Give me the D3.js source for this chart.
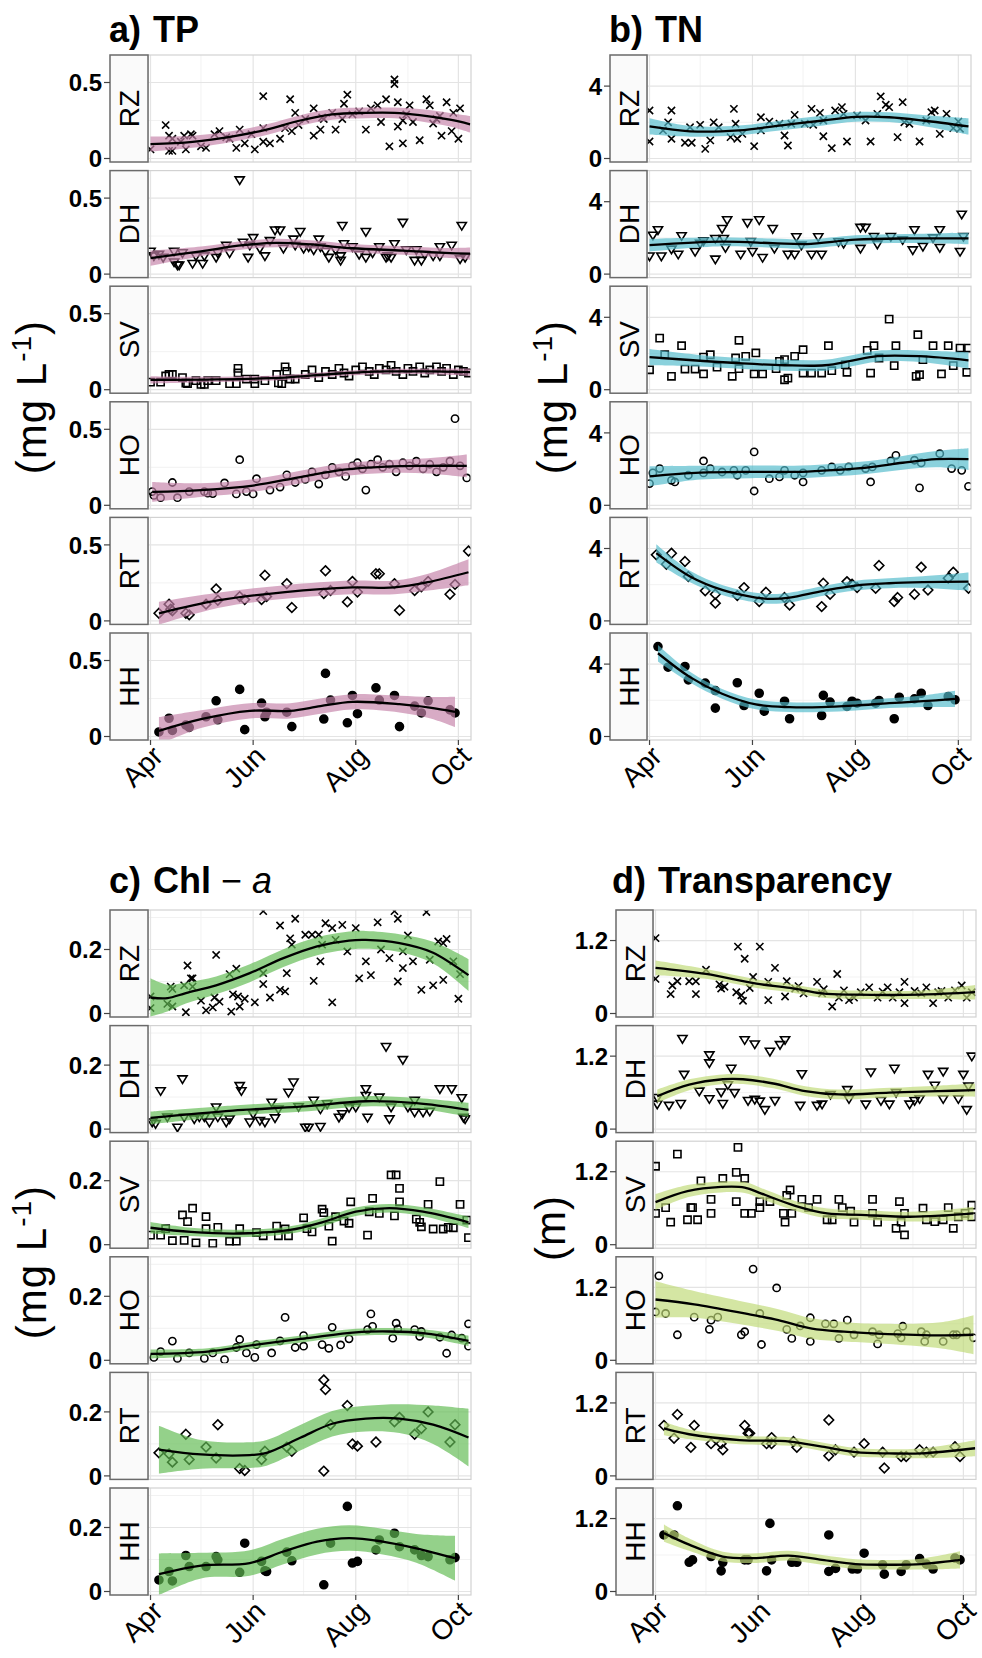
<!DOCTYPE html>
<html><head><meta charset="utf-8">
<script src="https://cdn.jsdelivr.net/npm/d3@7"></script>
<style>
body{margin:0;background:#fff}
svg{display:block}
text{font-family:"Liberation Sans",Arial,Helvetica,sans-serif;fill:#000}
</style>
</head><body>
<svg id="chart" width="982" height="1658"></svg>
<script>
// ---------------- categories / ticks ----------------
const lakes = ["RZ","DH","SV","HO","RT","HH"];
const monthDays = [0,61,122,183];          // Apr 1, Jun 1, Aug 1, Oct 1 (days since Apr 1)
const monthLabels = ["Apr","Jun","Aug","Oct"];
const minorDays = [30,91,153];             // May 1, Jul 1, Sep 1
const dayDomain = [-1.5,190.5];
const tpTicks = [0,0.5], tnTicks = [0,4], chlTicks = [0,0.2], secTicks = [0,1.2];

// ---------------- a) TP  [day, value] ----------------
const tpRZ = [[0,.06],[9,.22],[11,.15],[13,.13],[11,.05],[13,.05],[18,.11],[20,.15],[21,.06],[24,.16],[25,.15],[30,.08],[33,.07],[38,.16],[41,.18],[45,.14],[47,.13],[51,.07],[53,.19],[56,.10],[60,.16],[62,.06],[67,.41],[67,.20],[67,.11],[71,.10],[77,.13],[80,.20],[83,.39],[84,.18],[86,.30],[88,.22],[92,.26],[97,.33],[97,.15],[101,.19],[102,.27],[103,.26],[108,.30],[110,.19],[114,.26],[115,.36],[117,.42],[120,.29],[124,.31],[128,.19],[131,.33],[135,.35],[137,.24],[140,.39],[142,.08],[145,.52],[145,.49],[147,.37],[147,.21],[150,.10],[150,.25],[152,.29],[154,.35],[156,.24],[160,.12],[164,.39],[166,.35],[168,.23],[170,.26],[172,.28],[173,.15],[176,.37],[179,.18],[180,.30],[183,.13],[184,.33]];
const tpRZfit = [[0,.095,.05],[25,.11,.04],[49,.146,.035],[69,.19,.035],[89,.25,.035],[108,.29,.035],[128,.30,.035],[145,.30,.035],[160,.285,.04],[178,.255,.045],[190,.225,.055]];
const tpDH = [[0,.15],[2,.12],[5,.13],[7.5,.11],[14,.15],[14,.08],[16,.06],[17,.06],[19,.14],[25,.07],[27,.12],[31,.07],[32,.12],[39,.11],[40,.14],[45,.19],[47,.14],[53,.62],[55,.21],[58,.11],[59,.19],[61,.24],[65,.17],[68,.12],[71,.22],[74,.29],[77,.29],[79,.17],[85,.23],[86,.19],[89,.28],[91,.17],[94,.18],[97,.16],[100,.23],[101,.18],[104,.15],[106,.11],[110,.16],[113,.12],[113,.09],[114,.32],[115,.20],[120,.18],[124,.13],[128,.28],[128,.11],[132,.14],[136,.18],[140,.11],[141,.12],[143,.11],[145,.20],[150,.34],[152,.16],[157,.09],[158,.16],[161,.09],[163,.13],[168,.12],[172,.12],[172,.18],[179,.19],[184,.10],[185,.32],[187,.11]];
const tpDHfit = [[0,.105,.05],[30,.15,.032],[55,.19,.028],[75,.205,.028],[95,.195,.028],[120,.17,.028],[150,.155,.028],[175,.14,.032],[190,.135,.04]];
const tpSV = [[0,.05],[6,.05],[9,.09],[11,.10],[13,.10],[19,.08],[21,.044],[22,.04],[27,.06],[30,.035],[32,.035],[34,.06],[39,.06],[47,.04],[51,.04],[52,.14],[52,.11],[57,.07],[62,.07],[62,.04],[68,.06],[75,.10],[76,.045],[78,.04],[80,.15],[81,.12],[83,.07],[86,.07],[92,.10],[96,.13],[100,.08],[104,.12],[108,.10],[112,.14],[115,.11],[118,.09],[122,.13],[126,.15],[130,.12],[133,.10],[136,.14],[140,.13],[143,.16],[146,.12],[150,.10],[153,.14],[156,.12],[160,.15],[163,.11],[166,.13],[170,.15],[173,.12],[176,.14],[180,.10],[183,.13],[186,.12],[189,.11]];
const tpSVfit = [[0,.065,.024],[40,.068,.017],[80,.08,.017],[110,.105,.017],[140,.12,.017],[165,.12,.018],[190,.115,.024]];
const tpHO = [[1,.09],[2,.065],[6,.05],[13,.15],[16,.05],[23,.09],[32,.09],[34,.08],[37,.077],[44,.147],[51,.075],[53,.30],[57,.09],[61,.075],[63,.175],[71,.10],[77,.12],[81,.20],[86,.15],[92,.17],[96,.22],[100,.14],[104,.20],[108,.25],[112,.22],[116,.19],[120,.26],[123,.28],[126,.24],[128,.10],[131,.27],[135,.30],[138,.25],[142,.27],[146,.22],[150,.28],[154,.26],[158,.29],[162,.24],[166,.27],[170,.22],[174,.25],[178,.29],[181,.57],[184,.26],[188,.18]];
const tpHOfit = [[1,.088,.065],[30,.10,.045],[61,.13,.042],[89,.186,.042],[115,.235,.042],[140,.255,.042],[165,.26,.05],[188,.26,.075]];
const tpRT = [[5,.05],[11,.11],[12,.077],[13,.066],[21,.05],[23,.04],[33,.11],[39,.21],[40,.136],[53,.16],[56,.14],[66,.14],[68,.30],[69,.16],[81,.245],[84,.088],[103,.18],[104,.33],[107,.20],[117,.125],[120,.26],[123,.19],[134,.31],[136,.31],[145,.245],[148,.07],[157,.20],[161,.225],[165,.26],[178,.175],[181,.24],[189,.46]];
const tpRTfit = [[5,.05,.075],[40,.135,.05],[80,.19,.045],[120,.22,.045],[145,.22,.045],[165,.255,.055],[189,.32,.085]];
const tpHH = [[5,.03],[11,.12],[13,.04],[21,.075],[23,.06],[33,.13],[39,.235],[40,.11],[53,.31],[56,.045],[66,.22],[68,.13],[69,.16],[81,.16],[84,.065],[103,.115],[104,.415],[107,.24],[117,.09],[120,.27],[123,.15],[134,.32],[136,.24],[145,.27],[148,.065],[157,.20],[161,.155],[165,.235],[178,.175],[181,.155]];
const tpHHfit = [[5,.037,.09],[30,.114,.058],[59,.169,.05],[83,.169,.05],[101,.20,.05],[120,.228,.05],[148,.213,.055],[166,.19,.07],[181,.162,.1]];

// ---------------- b) TN ----------------
const tnRZ = [[0,2.65],[0,.94],[8,1.55],[11,2.0],[13,2.65],[13,1.09],[21,.87],[25,.87],[24,1.73],[30,1.86],[33,.53],[36,1.0],[38,2.0],[41,1.73],[48,1.18],[50,2.74],[51,1.92],[52,1.09],[55,1.36],[62,.68],[66,2.28],[66,1.55],[71,2.04],[77,1.92],[80,1.27],[82,.72],[84,1.92],[86,2.41],[92,1.92],[96,2.74],[97,1.86],[101,2.52],[103,1.23],[103,2.1],[108,.57],[110,2.65],[114,2.84],[115,2.47],[117,.94],[123,2.38],[128,2.1],[131,.94],[135,2.47],[137,3.43],[140,2.97],[142,2.84],[147,1.18],[150,3.11],[151,2.0],[154,1.92],[160,.94],[164,2.1],[167,2.56],[169,2.65],[172,1.36],[176,2.47],[180,1.68],[183,2.04],[184,1.64]];
const tnRZfit = [[0,1.77,.45],[24,1.5,.3],[53,1.55,.27],[77,1.82,.27],[103,2.1,.27],[122,2.3,.27],[142,2.28,.27],[162,2.1,.3],[189,1.77,.45]];
const tnDH = [[0,1.0],[2,2.15],[5,2.45],[7,1.0],[13,1.38],[17,1.1],[19,2.12],[27,1.25],[30,1.7],[32,1.84],[39,.83],[39,1.97],[43,2.52],[44,1.97],[45,1.47],[46,3.0],[54,1.1],[58,2.85],[60,1.8],[61,1.25],[65,3.0],[67,.92],[73,2.52],[74,1.42],[82,1.1],[86,1.1],[87,2.06],[90,1.6],[96,1.1],[100,2.06],[102,1.1],[112,1.79],[115,1.7],[125,2.58],[128,2.58],[125,1.42],[133,2.08],[135,1.66],[143,2.08],[150,1.9],[156,1.34],[157,2.45],[162,1.53],[168,2.0],[172,2.45],[172,1.47],[184,1.25],[185,3.31],[186,2.08]];
const tnDHfit = [[0,1.6,.35],[43,1.79,.25],[73,1.71,.25],[93,1.66,.25],[122,1.9,.25],[152,1.97,.25],[189,1.97,.32]];
const tnSV = [[0,1.1],[6,2.85],[9,1.93],[13,.74],[19,2.43],[21,1.14],[27,1.14],[32,.87],[32,1.8],[36,1.93],[40,1.25],[49,.74],[51,1.75],[53,2.73],[53,1.16],[57,1.84],[62,.87],[63,2.03],[67,.87],[75,1.16],[77,1.57],[80,1.66],[80,.55],[82,.64],[86,1.84],[91,2.21],[91,.92],[96,.92],[102,.92],[106,2.43],[108,1.05],[116,1.38],[117,.96],[129,2.17],[131,.92],[133,2.43],[136,1.75],[142,3.9],[145,1.33],[146,2.43],[158,.74],[160,.83],[159,3.04],[162,1.66],[168,2.43],[173,.87],[177,2.43],[180,1.33],[184,2.3],[188,.96],[189,2.3]];
const tnSVfit = [[0,1.8,.45],[30,1.6,.32],[55,1.45,.3],[80,1.35,.3],[104,1.35,.3],[120,1.6,.3],[135,1.85,.3],[160,1.85,.32],[189,1.62,.45]];
const tnHO = [[0,1.2],[2,1.79],[6,2.03],[13,1.38],[15,1.29],[23,1.66],[32,2.45],[32,1.79],[36,2.03],[43,1.84],[50,1.93],[52,1.66],[57,1.93],[62,2.95],[62,.79],[71,1.47],[77,1.57],[80,1.93],[86,1.66],[91,1.29],[91,1.79],[102,1.93],[108,2.12],[113,1.93],[118,2.12],[128,2.03],[131,1.29],[132,2.12],[143,2.45],[146,2.76],[157,2.49],[160,.96],[161,2.34],[172,2.85],[179,2.03],[185,1.93],[189,1.05]];
const tnHOfit = [[0,1.6,.55],[30,1.8,.38],[60,1.85,.35],[90,1.85,.35],[110,1.95,.35],[130,2.1,.35],[150,2.35,.38],[170,2.55,.45],[189,2.55,.6]];
const tnRT = [[4,3.65],[10,3.13],[13,3.74],[21,3.28],[23,2.45],[33,1.66],[39,1.47],[39,.98],[52,1.4],[56,1.84],[65,1.07],[69,1.58],[80,1.29],[83,.88],[102,.79],[103,2.08],[107,1.47],[117,2.17],[120,2.03],[123,1.84],[134,1.8],[136,3.06],[145,1.07],[147,1.29],[157,1.47],[161,2.97],[165,1.71],[177,2.36],[180,2.69],[189,1.8]];
const tnRTfit = [[4,3.74,.5],[24,2.45,.32],[43,1.71,.28],[63,1.29,.27],[73,1.22,.27],[83,1.29,.27],[103,1.66,.27],[122,1.95,.27],[142,2.08,.27],[162,2.14,.32],[189,2.17,.5]];
const tnHH = [[5,4.97],[11,3.83],[21,3.87],[23,3.13],[33,2.95],[39,2.54],[39,1.57],[52,2.97],[56,1.71],[65,2.39],[68,1.4],[80,1.95],[83,.98],[103,2.27],[102,1.16],[107,1.9],[117,1.66],[120,1.95],[123,1.84],[134,1.84],[136,1.99],[145,.98],[148,2.17],[157,2.08],[161,2.39],[165,1.71],[177,2.21],[181,2.03]];
const tnHHfit = [[5,4.6,.45],[24,3.28,.3],[43,2.36,.27],[63,1.77,.27],[83,1.62,.27],[102,1.62,.27],[122,1.71,.27],[142,1.84,.27],[162,1.95,.32],[181,2.08,.45]];

// ---------------- c) Chl-a ----------------
const chlRZ = [[0,.017],[0,.053],[10,.03],[12,.084],[13,.077],[13,.022],[20,.088],[21,.004],[22,.15],[24,.11],[25,.11],[25,.084],[30,.04],[33,.01],[37,.019],[38,.05],[39,.183],[41,.037],[47,.123],[48,.006],[49,.06],[51,.14],[52,.053],[53,.022],[56,.046],[62,.035],[67,.32],[67,.126],[67,.092],[71,.05],[77,.275],[77,.074],[80,.069],[81,.126],[83,.235],[84,.215],[86,.296],[92,.246],[96,.246],[97,.102],[100,.246],[101,.163],[102,.215],[104,.282],[108,.035],[108,.267],[110,.23],[114,.277],[117,.194],[122,.267],[124,.11],[128,.163],[131,.12],[135,.285],[137,.2],[142,.173],[145,.32],[147,.296],[147,.1],[150,.194],[150,.142],[153,.244],[156,.163],[161,.074],[164,.317],[166,.168],[168,.088],[171,.225],[174,.22],[174,.105],[176,.233],[180,.163],[183,.046],[184,.123]];
const chlRZfit = [[0,.05,.06],[10,.048,.042],[21,.064,.033],[39,.088,.028],[59,.126,.028],[79,.173,.028],[99,.21,.028],[118,.228,.028],[128,.23,.028],[148,.22,.028],[168,.19,.034],[189,.12,.05]];
const chlDH = [[1,.022],[3,.017],[6,.12],[10,.038],[16,.006],[19,.157],[20,.038],[26,.032],[29,.038],[32,.038],[35,.022],[39,.069],[40,.038],[45,.022],[47,.032],[53,.136],[54,.12],[59,.022],[61,.048],[65,.027],[68,.022],[72,.084],[74,.035],[76,.063],[82,.115],[85,.147],[88,.07],[92,.006],[94,.006],[97,.09],[101,.008],[101,.063],[105,.079],[112,.037],[114,.048],[118,.067],[122,.069],[128,.126],[128,.105],[129,.037],[136,.1],[140,.258],[142,.032],[143,.069],[150,.217],[153,.069],[157,.09],[157,.053],[162,.053],[166,.056],[172,.126],[179,.126],[185,.098],[186,.037],[187,.032]];
const chlDHfit = [[0,.035,.02],[49,.058,.016],[89,.07,.016],[128,.087,.016],[158,.081,.016],[189,.06,.022]];
const chlSV = [[0,.03],[6,.03],[9,.05],[13,.0125],[19,.093],[20,.0135],[22,.072],[25,.114],[27,.006],[33,.0875],[33,.05],[37,.004],[40,.054],[47,.011],[51,.011],[53,.05],[63,.038],[67,.028],[75,.058],[76,.028],[80,.049],[82,.028],[91,.084],[93,.05],[96,.04],[102,.111],[103,.1],[106,.058],[108,.011],[110,.0875],[115,.074],[118,.067],[119,.134],[129,.03],[130,.103],[132,.145],[136,.098],[143,.218],[146,.218],[145,.09],[148,.176],[148,.134],[158,.08],[160,.07],[161,.056],[165,.126],[168,.049],[172,.197],[174,.049],[177,.054],[180,.053],[184,.126],[188,.077],[189,.022]];
const chlSVfit = [[0,.053,.018],[24,.04,.013],[53,.035,.012],[83,.046,.012],[102,.07,.013],[122,.103,.013],[142,.114,.013],[162,.103,.014],[189,.07,.018]];
const chlHO = [[2,.009],[6,.027],[13,.06],[16,.006],[23,.023],[32,.006],[37,.023],[44,.002],[51,.04],[53,.065],[57,.023],[62,.009],[63,.049],[72,.023],[77,.061],[80,.134],[86,.04],[91,.077],[91,.044],[102,.049],[106,.0375],[108,.103],[113,.048],[118,.067],[129,.096],[131,.145],[132,.106],[144,.069],[146,.116],[147,.098],[157,.096],[160,.075],[161,.09],[172,.072],[176,.022],[179,.079],[185,.069],[189,.114],[189,.044]];
const chlHOfit = [[0,.02,.014],[34,.027,.011],[63,.049,.011],[93,.069,.011],[122,.0875,.011],[142,.09,.011],[162,.085,.012],[189,.061,.016]];
const chlRT = [[5,.072],[11,.069],[13,.043],[21,.13],[23,.051],[33,.09],[39,.056],[40,.16],[53,.023],[56,.017],[66,.051],[68,.077],[81,.09],[84,.077],[103,.015],[103,.30],[104,.27],[107,.16],[117,.22],[120,.1],[123,.093],[134,.106],[145,.169],[148,.183],[157,.13],[161,.148],[165,.2],[178,.106],[181,.16]];
const chlRTfit = [[5,.082,.075],[30,.067,.045],[59,.065,.04],[69,.072,.04],[89,.119,.04],[108,.163,.04],[128,.179,.04],[148,.179,.045],[168,.16,.06],[189,.12,.09]];
const chlHH = [[5,.036],[11,.0625],[13,.033],[21,.1125],[23,.078],[33,.078],[39,.109],[40,.099],[53,.06],[56,.151],[66,.094],[68,.065],[69,.0625],[81,.123],[84,.096],[103,.021],[107,.151],[117,.266],[120,.089],[123,.094],[134,.13],[136,.161],[145,.182],[148,.14],[157,.13],[161,.1125],[165,.109],[178,.099],[181,.106]];
const chlHHfit = [[5,.054,.065],[30,.081,.04],[59,.089,.04],[79,.125,.04],[99,.156,.04],[118,.167,.04],[138,.156,.04],[158,.135,.045],[181,.104,.07]];

// ---------------- d) Transparency (m) ----------------
const secRZ = [[0,1.24],[0,.57],[9,.32],[10,.46],[13,.53],[20,.53],[24,.53],[24,.32],[30,.72],[38,.48],[39,.41],[41,.44],[48,.35],[49,1.1],[51,.30],[52,.21],[53,.9],[56,.42],[58,.6],[62,1.1],[67,.52],[67,.22],[71,.75],[77,.28],[78,.53],[83,.41],[85,.45],[88,.33],[96,.52],[99,.33],[100,.40],[105,.115],[108,.65],[109,.26],[112,.38],[115,.22],[118,.26],[122,.35],[127,.43],[132,.26],[135,.36],[138,.43],[141,.26],[145,.35],[148,.52],[148,.17],[154,.37],[158,.33],[161,.43],[165,.17],[168,.35],[170,.37],[174,.26],[178,.38],[182,.46],[185,.26],[188,.35]];
const secRZfit = [[0,.75,.12],[30,.65,.08],[60,.49,.07],[80,.42,.07],[99,.33,.07],[118,.31,.07],[158,.31,.07],[190,.35,.12]];
const secDH = [[1,.41],[1,.52],[8,.39],[15,.42],[16,1.49],[17,.9],[26,.625],[32,1.22],[32,1.09],[32,.5],[39,.61],[40,.42],[43,.73],[45,1.0],[47,.6],[53,1.47],[55,.47],[59,1.4],[59,.49],[62,.46],[65,.32],[68,1.28],[71,.47],[74,1.39],[77,1.47],[86,.39],[87,.91],[96,.39],[99,.41],[104,.57],[114,.65],[115,.5],[125,.41],[128,.94],[134,.47],[139,.41],[142,1.0],[143,.6],[151,.41],[154,.47],[157,.5],[162,.9],[166,.72],[171,.95],[171,.5],[180,.5],[183,.9],[185,.32],[186,.71],[188,1.2]];
const secDHfit = [[1,.54,.11],[20,.73,.09],[40,.82,.08],[52,.82,.08],[70,.75,.08],[89,.625,.08],[109,.57,.08],[139,.6,.08],[168,.625,.09],[190,.64,.11]];
const secSV = [[0,1.29],[0,.515],[6,.61],[9,.37],[13,1.49],[19,.41],[21,.61],[22,.61],[25,.41],[27,1.05],[33,.515],[33,.745],[40,1.09],[48,1.19],[48,.71],[49,1.6],[53,1.09],[53,.515],[57,.515],[62,.71],[62,.61],[68,.71],[76,.515],[77,.37],[78,.81],[80,.9],[81,.515],[87,.745],[91,.61],[96,.745],[102,.41],[105,.41],[109,.745],[111,.61],[116,.55],[118,.37],[129,.745],[129,.515],[132,.37],[143,.27],[145,.71],[146,.37],[148,.16],[148,.515],[159,.6],[161,.41],[166,.38],[171,.41],[174,.61],[177,.27],[180,.46],[184,.515],[188,.46],[188,.65]];
const secSVfit = [[0,.7,.13],[19,.88,.1],[39,.95,.09],[53,.94,.09],[63,.84,.09],[83,.64,.08],[102,.515,.08],[122,.49,.08],[151,.46,.08],[171,.48,.09],[189,.515,.11]];
const secHO = [[0,.795],[2,1.39],[6,.77],[13,.42],[23,.71],[32,.51],[33,.66],[37,.71],[51,.42],[53,.47],[58,1.5],[62,.77],[63,.26],[72,1.19],[78,.51],[81,.36],[86,.565],[92,.7],[92,.31],[101,.6],[106,.6],[109,.36],[114,.66],[118,.42],[129,.47],[132,.27],[133,.42],[144,.44],[146,.37],[147,.56],[158,.47],[160,.31],[161,.42],[171,.31],[177,.42],[179,.42],[185,.47],[189,.37]];
const secHOfit = [[0,1.0,.3],[23,.92,.22],[53,.77,.19],[73,.66,.18],[93,.52,.17],[112,.47,.16],[132,.44,.16],[171,.41,.22],[189,.42,.32]];
const secRT = [[5,.83],[11,.62],[13,1.01],[21,.47],[23,.83],[33,.53],[39,.53],[40,.43],[53,.83],[55,.70],[56,.70],[66,.53],[69,.53],[69,.63],[82,.565],[84,.47],[103,.92],[103,.33],[107,.43],[118,.39],[124,.53],[135,.39],[136,.13],[146,.32],[149,.32],[157,.43],[161,.39],[165,.39],[178,.48],[181,.32]];
const secRTfit = [[5,.78,.11],[20,.685,.08],[50,.59,.07],[80,.565,.07],[99,.48,.07],[119,.39,.07],[139,.37,.07],[158,.37,.08],[190,.455,.13]];
const secHH = [[5,.93],[11,.93],[13,1.41],[20,.48],[22,.52],[33,.575],[39,.34],[40,.48],[53,.52],[55,.52],[66,.34],[68,1.12],[69,.52],[81,.48],[84,.48],[103,.93],[103,.33],[107,.38],[117,.37],[120,.37],[124,.63],[135,.44],[136,.285],[146,.33],[149,.44],[157,.54],[161,.45],[165,.37],[178,.55],[181,.52]];
const secHHfit = [[5,.96,.14],[20,.77,.1],[40,.575,.08],[60,.55,.08],[79,.59,.08],[99,.52,.08],[119,.45,.08],[139,.44,.08],[158,.45,.09],[181,.52,.14]];

// ---------------- layout / styling ----------------
const FH = 107, PITCH = 115.6;
const panels = [
  {letter:"a)", name:[{t:"TP"}], titleX:109, titleY:42, stripX:110, x0:148, x1:471, top:55,
   yDom:[-3.5/152, 103.5/152], ticks:tpTicks, minor:[0.25], fill:"#c583aa",
   series:[tpRZ,tpDH,tpSV,tpHO,tpRT,tpHH], fits:[tpRZfit,tpDHfit,tpSVfit,tpHOfit,tpRTfit,tpHHfit],
   ytitle:"mg", ytX:46, ytY:397},
  {letter:"b)", name:[{t:"TN"}], titleX:609, titleY:42, stripX:610, x0:647, x1:971, top:55,
   yDom:[-3.5/18.1, 103.5/18.1], ticks:tnTicks, minor:[2], fill:"#52bbcc",
   series:[tnRZ,tnDH,tnSV,tnHO,tnRT,tnHH], fits:[tnRZfit,tnDHfit,tnSVfit,tnHOfit,tnRTfit,tnHHfit],
   ytitle:"mg", ytX:567, ytY:397},
  {letter:"c)", name:[{t:"Chl"},{t:" \u2212 ",w:"normal"},{t:"a",w:"normal",i:true}], titleX:109, titleY:893, stripX:110, x0:148, x1:471, top:910,
   yDom:[-3.5/320, 103.5/320], ticks:chlTicks, minor:[0.1,0.3], fill:"#62bb52",
   series:[chlRZ,chlDH,chlSV,chlHO,chlRT,chlHH], fits:[chlRZfit,chlDHfit,chlSVfit,chlHOfit,chlRTfit,chlHHfit],
   ytitle:"mg", ytX:46, ytY:1262},
  {letter:"d)", name:[{t:"Transparency"}], titleX:612, titleY:893, stripX:616, x0:653, x1:976, top:910,
   yDom:[-3.5/60.8, 103.5/60.8], ticks:secTicks, minor:[0.6], fill:"#c0da78",
   series:[secRZ,secDH,secSV,secHO,secRT,secHH], fits:[secRZfit,secDHfit,secSVfit,secHOfit,secRTfit,secHHfit],
   ytitle:"m", ytX:565, ytY:1228}
];

const shapePaths = {
  RZ:"M-3.6,-3.6L3.6,3.6M-3.6,3.6L3.6,-3.6",
  DH:"M-4.6,-3L4.6,-3L0,4.6Z",
  SV:"M-3.6,-3.6H3.6V3.6H-3.6Z",
  HO:"M3.6,0A3.6,3.6 0 1,1 -3.6,0A3.6,3.6 0 1,1 3.6,0Z",
  RT:"M0,-4.8L4.8,0L0,4.8L-4.8,0Z",
  HH:"M4,0A4,4 0 1,1 -4,0A4,4 0 1,1 4,0Z"
};

const svg = d3.select("#chart");
const defs = svg.append("defs");
let clipId = 0;

panels.forEach(p => {
  const x = d3.scaleLinear().domain(dayDomain).range([p.x0, p.x1]);

  // title
  const tt = svg.append("text").attr("x", p.titleX).attr("y", p.titleY)
    .attr("font-size", 36).attr("font-weight", "bold");
  tt.append("tspan").text(p.letter);
  p.name.forEach((s, k) => {
    const ts = tt.append("tspan").text(s.t).attr("font-weight", s.w || "bold");
    if (k === 0) ts.attr("dx", 12);
    if (s.i) ts.attr("font-style", "italic");
  });

  lakes.forEach((lake, i) => {
    const top = p.top + i * PITCH, bot = top + FH;
    const y = d3.scaleLinear().domain(p.yDom).range([bot, top]);
    const g = svg.append("g");

    // panel background & grid
    g.append("rect").attr("x", p.x0).attr("y", top).attr("width", p.x1 - p.x0).attr("height", FH)
      .attr("fill", "#fff");
    const grid = g.append("g");
    minorDays.forEach(d => grid.append("line").attr("x1", x(d)).attr("x2", x(d)).attr("y1", top).attr("y2", bot)
      .attr("stroke", "#f1f1f1").attr("stroke-width", 0.9));
    p.minor.forEach(v => { if (v < p.yDom[1]) grid.append("line").attr("x1", p.x0).attr("x2", p.x1)
      .attr("y1", y(v)).attr("y2", y(v)).attr("stroke", "#f1f1f1").attr("stroke-width", 0.9); });
    monthDays.forEach(d => grid.append("line").attr("x1", x(d)).attr("x2", x(d)).attr("y1", top).attr("y2", bot)
      .attr("stroke", "#e4e4e4").attr("stroke-width", 1.2));
    p.ticks.forEach(v => grid.append("line").attr("x1", p.x0).attr("x2", p.x1)
      .attr("y1", y(v)).attr("y2", y(v)).attr("stroke", "#e4e4e4").attr("stroke-width", 1.2));

    const cid = "clip" + (clipId++);
    defs.append("clipPath").attr("id", cid).append("rect")
      .attr("x", p.x0).attr("y", top).attr("width", p.x1 - p.x0).attr("height", FH);
    const inner = g.append("g").attr("clip-path", `url(#${cid})`);

    // points
    inner.append("g").selectAll("path").data(p.series[i]).join("path")
      .attr("transform", d => `translate(${x(d[0])},${y(d[1])})`)
      .attr("d", shapePaths[lake])
      .attr("fill", lake === "HH" ? "#000" : "none")
      .attr("stroke", "#000").attr("stroke-width", 1.6);

    // confidence band
    const fit = p.fits[i];
    inner.append("path").datum(fit)
      .attr("d", d3.area().x(d => x(d[0])).y0(d => y(d[1] - d[2])).y1(d => y(d[1] + d[2])).curve(d3.curveCatmullRom))
      .attr("fill", p.fill).attr("fill-opacity", 0.68);
    // smooth line
    inner.append("path").datum(fit)
      .attr("d", d3.line().x(d => x(d[0])).y(d => y(d[1])).curve(d3.curveCatmullRom))
      .attr("fill", "none").attr("stroke", "#000").attr("stroke-width", 2.3);

    // panel border
    g.append("rect").attr("x", p.x0).attr("y", top).attr("width", p.x1 - p.x0).attr("height", FH)
      .attr("fill", "none").attr("stroke", "#d2d2d2").attr("stroke-width", 1.2);

    // strip
    g.append("rect").attr("x", p.stripX).attr("y", top).attr("width", p.x0 - p.stripX).attr("height", FH)
      .attr("fill", "#fafafa").attr("stroke", "#6a6a6a").attr("stroke-width", 1.5);
    g.append("text").attr("transform", `translate(${(p.stripX + p.x0) / 2 + 10},${top + FH / 2}) rotate(-90)`)
      .attr("text-anchor", "middle").attr("font-size", 28).text(lake);

    // y axis ticks + labels
    p.ticks.forEach(v => {
      g.append("line").attr("x1", p.stripX - 6).attr("x2", p.stripX).attr("y1", y(v)).attr("y2", y(v))
        .attr("stroke", "#444").attr("stroke-width", 1.2);
      g.append("text").attr("x", p.stripX - 8).attr("y", y(v)).attr("dy", "0.36em")
        .attr("text-anchor", "end").attr("font-size", 24).attr("font-weight", "bold").text(String(v));
    });

    // x axis on the bottom facet
    if (i === lakes.length - 1) {
      monthDays.forEach((d, k) => {
        g.append("line").attr("x1", x(d)).attr("x2", x(d)).attr("y1", bot).attr("y2", bot + 5)
          .attr("stroke", "#444").attr("stroke-width", 1.2);
        g.append("text").attr("transform", `translate(${x(d) + 14},${bot + 18}) rotate(-45)`)
          .attr("text-anchor", "end").attr("font-size", 28).text(monthLabels[k]);
      });
    }
  });

  // y axis title
  const yt = svg.append("text").attr("transform", `translate(${p.ytX},${p.ytY}) rotate(-90)`)
    .attr("text-anchor", "middle").attr("font-size", 42).attr("letter-spacing", 1);
  if (p.ytitle === "mg") {
    yt.append("tspan").text("(mg L");
    yt.append("tspan").attr("dy", -15).attr("font-size", 28).text("-1");
    yt.append("tspan").attr("dy", 15).text(")");
  } else {
    yt.text("(m)");
  }
});
</script>
</body></html>
